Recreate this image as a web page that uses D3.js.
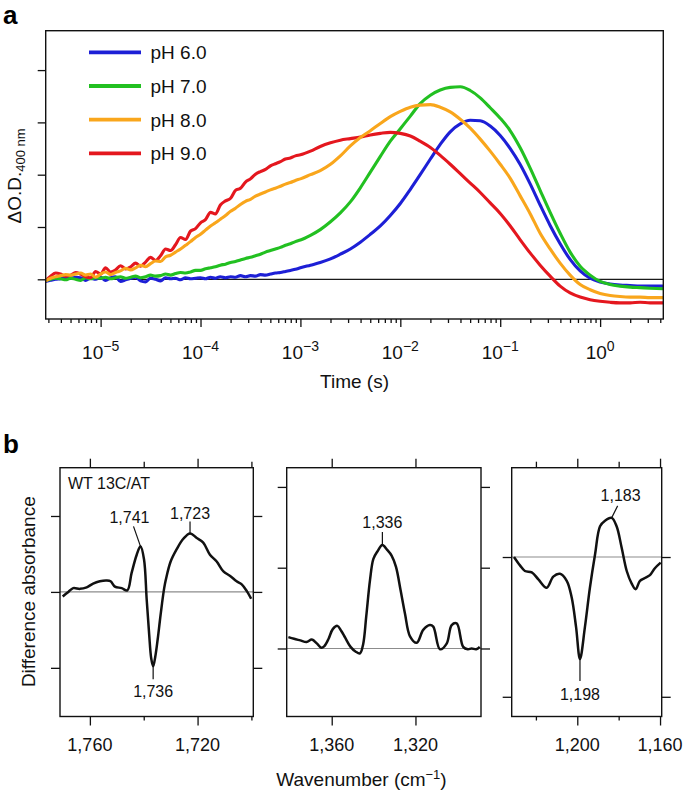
<!DOCTYPE html>
<html><head><meta charset="utf-8">
<script src="https://cdn.jsdelivr.net/npm/d3@7"></script>
<style>
body{margin:0;background:#fff;}
svg{display:block;font-family:"Liberation Sans",Arial,Helvetica,sans-serif;}
</style></head><body>
<svg id="c" width="685" height="794"></svg>
<script>
// ---------- Panel a data ----------
const times = [
2.82e-6,3.16e-6,3.55e-6,3.98e-6,4.47e-6,5.01e-6,5.62e-6,6.31e-6,7.08e-6,7.94e-6,8.91e-6,
1.00e-5,1.12e-5,1.26e-5,1.41e-5,1.58e-5,1.78e-5,2.00e-5,2.24e-5,2.51e-5,2.82e-5,3.16e-5,3.55e-5,3.98e-5,4.47e-5,5.01e-5,5.62e-5,6.31e-5,7.08e-5,7.94e-5,8.91e-5,
1.00e-4,1.12e-4,1.26e-4,1.41e-4,1.58e-4,1.78e-4,2.00e-4,2.24e-4,2.51e-4,2.82e-4,3.16e-4,3.55e-4,3.98e-4,4.47e-4,5.01e-4,5.62e-4,6.31e-4,7.08e-4,7.94e-4,8.91e-4,
1.00e-3,
1.26e-3,1.58e-3,2.00e-3,2.51e-3,3.16e-3,3.98e-3,5.01e-3,6.31e-3,7.94e-3,
1.00e-2,1.26e-2,1.58e-2,2.00e-2,2.51e-2,3.16e-2,3.98e-2,5.01e-2,6.31e-2,7.94e-2,
0.100,0.126,0.158,0.200,0.251,0.316,0.398,0.501,0.631,0.794,
1.00,1.26,1.58,2.00,2.51,3.16,4.27];

const pH60 = [
-0.04,-0.02,0.00,0.01,0.03,0.02,0.04,0.03,-0.02,0.02,0.00,
0.04,-0.02,0.03,0.05,-0.04,-0.01,0.02,0.04,-0.03,-0.05,0.02,0.00,-0.03,0.03,0.01,0.02,-0.01,0.03,0.01,0.02,
0.03,0.01,0.04,0.02,0.05,0.03,0.05,0.04,0.07,0.05,0.07,0.06,0.09,0.08,0.10,0.12,0.13,0.15,0.17,0.19,
0.22,
0.27,0.32,0.39,0.48,0.58,0.71,0.86,1.02,1.22,
1.45,1.72,2.00,2.30,2.58,2.82,2.97,3.04,3.03,2.93,
2.75,2.50,2.20,1.82,1.42,1.03,0.68,0.38,0.16,0.02,
-0.05,-0.09,-0.11,-0.12,-0.13,-0.13,-0.13];

const pH70 = [
-0.02,0.00,0.02,0.01,-0.01,0.02,0.00,-0.02,0.03,0.01,0.03,
0.02,0.04,0.01,0.03,0.05,0.02,0.04,0.06,0.03,0.05,0.08,0.06,0.07,0.10,0.08,0.11,0.13,0.12,0.14,0.17,
0.17,0.20,0.22,0.24,0.27,0.29,0.32,0.34,0.37,0.40,0.42,0.45,0.48,0.52,0.55,0.58,0.61,0.65,0.68,0.72,
0.75,
0.84,0.95,1.10,1.27,1.48,1.75,2.05,2.35,2.64,
2.88,3.12,3.36,3.52,3.62,3.67,3.68,3.61,3.47,3.28,
3.08,2.84,2.52,2.12,1.70,1.28,0.88,0.52,0.25,0.08,
-0.04,-0.10,-0.13,-0.15,-0.16,-0.17,-0.18];

const pH80 = [
-0.03,0.02,0.05,0.07,0.09,0.08,0.10,0.12,0.08,0.10,0.04,
0.10,0.14,0.09,0.13,0.16,0.21,0.18,0.22,0.27,0.24,0.30,0.35,0.34,0.43,0.46,0.52,0.58,0.65,0.72,0.80,
0.86,0.94,1.02,1.08,1.15,1.22,1.30,1.36,1.43,1.49,1.53,1.59,1.63,1.67,1.71,1.74,1.78,1.82,1.85,1.89,
1.92,
2.00,2.08,2.20,2.36,2.55,2.71,2.84,2.98,3.11,
3.21,3.29,3.33,3.34,3.29,3.20,3.06,2.89,2.68,2.45,
2.20,1.93,1.60,1.25,0.88,0.58,0.31,0.08,-0.10,-0.20,
-0.27,-0.31,-0.33,-0.34,-0.34,-0.35,-0.35];

const pH90 = [
-0.02,0.06,0.12,0.10,0.06,0.08,0.13,0.10,0.05,0.03,0.15,
0.10,0.22,0.14,0.18,0.26,0.20,0.24,0.31,0.25,0.33,0.42,0.36,0.45,0.58,0.55,0.66,0.80,0.76,0.92,0.97,
1.08,1.14,1.28,1.25,1.42,1.50,1.55,1.70,1.74,1.86,1.92,2.01,2.06,2.10,2.17,2.21,2.25,2.30,2.32,2.36,
2.38,
2.45,2.54,2.61,2.66,2.69,2.72,2.76,2.79,2.81,
2.79,2.74,2.64,2.52,2.37,2.20,2.02,1.84,1.66,1.46,
1.26,1.02,0.76,0.50,0.27,0.06,-0.13,-0.26,-0.34,-0.39,
-0.42,-0.44,-0.45,-0.45,-0.44,-0.45,-0.45];

const seriesNames = ["pH 6.0","pH 7.0","pH 8.0","pH 9.0"];
const seriesColors = ["#1d1fd6","#22c021","#f9a61c","#e4171e"];
const timeMajorTicks = [1e-5,1e-4,1e-3,1e-2,1e-1,1];
const timeExponents = ["\u22125","\u22124","\u22123","\u22122","\u22121","0"];
const odTicks = [0,1,2,3,4];

// ---------- Panel b data ----------
const wn1 = [1770.1,1768,1766.2,1763.7,1761.2,1758.8,1756.3,1753.8,1752.3,1750.7,1748.2,1746.1,1744.5,1742.6,1741.2,1739.9,1738.9,1738.0,1737.2,1736.5,1735.7,1734.8,1734.0,1733.2,1732.4,1731.8,1730,1727.8,1725.3,1722.8,1720.3,1717.9,1715.4,1712.9,1710.4,1707.9,1705.5,1703.6,1701.7,1700.1];
const ab1 = [-0.06,0.0,0.05,0.04,0.06,0.11,0.14,0.15,0.14,0.07,0.05,0.02,0.25,0.49,0.60,0.43,-0.10,-0.55,-0.88,-0.98,-0.85,-0.62,-0.38,-0.15,0.05,0.16,0.40,0.56,0.70,0.77,0.71,0.65,0.49,0.40,0.27,0.21,0.14,0.10,0.01,-0.09];
const wn2 = [1380.7,1378,1375,1372,1369.5,1367,1365,1363.5,1361.5,1359.5,1357.3,1355.5,1353.5,1351,1348.5,1346.5,1345,1343.5,1341.7,1340.1,1338.2,1335.8,1333.5,1331.4,1329.3,1327.1,1325,1322.6,1319.4,1316.3,1313.1,1311.5,1308.3,1305.1,1302.7,1300.3,1297.2,1295,1293.2,1291,1289.3];
const ab2 = [0.14,0.12,0.10,0.08,0.11,0.06,0.01,0.03,0.12,0.24,0.28,0.22,0.13,0.02,-0.04,-0.06,0.05,0.40,0.85,1.11,1.20,1.28,1.22,1.15,1.01,0.72,0.43,0.15,0.07,0.23,0.29,0.27,-0.01,0.06,0.29,0.31,0.02,-0.01,0.0,-0.01,0.02];
const wn3 = [1230.6,1227.7,1225.3,1222,1218.8,1214.8,1211.6,1208.4,1205.1,1202.7,1200.6,1198.7,1196.3,1193.9,1191.4,1189,1186.6,1183.4,1181,1178.6,1176.1,1173.7,1171.8,1169.7,1167.3,1164.9,1162.5,1159.7];
const ab3 = [0.0,-0.06,-0.10,-0.11,-0.16,-0.22,-0.14,-0.12,-0.17,-0.29,-0.50,-0.73,-0.50,-0.22,0.02,0.22,0.26,0.28,0.22,0.07,-0.10,-0.19,-0.23,-0.17,-0.15,-0.13,-0.08,-0.04];

const wnTicks1 = [1760,1740,1720,1700], wnLabels1 = [1760,1720], absTicks1 = [-1,0,1];
const wnTicks2 = [1360,1320], wnLabels2 = [1360,1320], absTicks2 = [0,1,2];
const wnTicks3 = [1220,1200,1180,1160], wnLabels3 = [1200,1160], absTicks3 = [-1,0];

// peak annotations: [label, wavenumber, value]
const peaks1 = [["1,741",1741.2,0.60],["1,723",1722.8,0.77],["1,736",1736.5,-0.98]];
const peaks2 = [["1,336",1335.8,1.28]];
const peaks3 = [["1,198",1198.7,-0.73],["1,183",1183.4,0.28]];

// ---------- drawing ----------
const svg = d3.select("#c");

svg.append("text").attr("x",3).attr("y",24).attr("font-size",26).attr("font-weight","bold").text("a");
svg.append("text").attr("x",3).attr("y",453).attr("font-size",26).attr("font-weight","bold").text("b");

// Panel a
const A = {l:45.7, r:663.3, t:30.7, b:319};
const xA = d3.scaleLog().domain([2.82e-6, 4.29]).range([A.l, A.r]);
const yA = d3.scaleLinear().domain([-0.759, 4.753]).range([A.b, A.t]);
const gA = svg.append("g");

gA.append("line").attr("x1",A.l).attr("x2",A.r).attr("y1",yA(0)).attr("y2",yA(0))
  .attr("stroke","#1a1a1a").attr("stroke-width",1.2);

const series = [pH60, pH70, pH80, pH90];
const lineA = d3.line().x((d,i)=>xA(times[i])).y(d=>yA(d)).curve(d3.curveMonotoneX);
[0,1,3,2].forEach(k => {
  gA.append("path").attr("d", lineA(series[k])).attr("fill","none")
    .attr("stroke", seriesColors[k]).attr("stroke-width",3.1).attr("stroke-linejoin","round");
});

gA.append("rect").attr("x",A.l).attr("y",A.t).attr("width",A.r-A.l).attr("height",A.b-A.t)
  .attr("fill","none").attr("stroke","#111").attr("stroke-width",1.4);

const yAx = gA.append("g").attr("transform",`translate(${A.l},0)`)
  .call(d3.axisLeft(yA).tickValues(odTicks).tickSize(8).tickFormat(""));
yAx.select(".domain").remove();
yAx.selectAll("line").attr("stroke","#111").attr("stroke-width",1.3);

const allTicks = xA.ticks();
const minorTicks = allTicks.filter(t => Math.abs(Math.log10(t) - Math.round(Math.log10(t))) > 1e-6);
const xAmin = gA.append("g").attr("transform",`translate(0,${A.b})`)
  .call(d3.axisBottom(xA).tickValues(minorTicks).tickSize(4).tickFormat(""));
const xAmaj = gA.append("g").attr("transform",`translate(0,${A.b})`)
  .call(d3.axisBottom(xA).tickValues(timeMajorTicks).tickSize(8).tickFormat(""));
[xAmin,xAmaj].forEach(g=>{g.select(".domain").remove(); g.selectAll("line").attr("stroke","#111").attr("stroke-width",1.3);});

timeMajorTicks.forEach((t,i)=>{
  const tx = gA.append("text").attr("x",xA(t)).attr("y",358.5).attr("text-anchor","middle").attr("font-size",19).attr("fill","#111");
  tx.append("tspan").text("10");
  tx.append("tspan").attr("dy",-7.5).attr("font-size",14).text(timeExponents[i]);
});
gA.append("text").attr("x",(A.l+A.r)/2).attr("y",388).attr("text-anchor","middle").attr("font-size",19).attr("fill","#111").text("Time (s)");

const yt = gA.append("text").attr("transform",`translate(21,${176}) rotate(-90)`).attr("text-anchor","middle").attr("font-size",19).attr("fill","#111");
yt.append("tspan").text("\u0394O.D.");
yt.append("tspan").attr("dy",4).attr("font-size",13).text("400 nm");

seriesNames.forEach((n,i)=>{
  const y = 52.3 + i*33.7;
  gA.append("line").attr("x1",89).attr("x2",141).attr("y1",y).attr("y2",y).attr("stroke",seriesColors[i]).attr("stroke-width",3.8);
  gA.append("text").attr("x",150.5).attr("y",y+7).attr("font-size",19).attr("fill","#111").text(n);
});

// Panel b
const B = {t:467.7, b:716.5};
const fmt = d3.format(",");
function panel(cfg){
  const x = d3.scaleLinear().domain(cfg.xd).range([cfg.l, cfg.r]);
  const y = d3.scaleLinear().domain(cfg.yd).range([B.b, B.t]);
  const g = svg.append("g");
  g.append("line").attr("x1",cfg.l).attr("x2",cfg.r).attr("y1",y(0)).attr("y2",y(0)).attr("stroke","#8c8c8c").attr("stroke-width",1.1);
  const ln = d3.line().x((d,i)=>x(cfg.wn[i])).y(d=>y(d)).curve(d3.curveCatmullRom.alpha(0.5));
  g.append("path").attr("d",ln(cfg.ab)).attr("fill","none").attr("stroke","#111").attr("stroke-width",2.5).attr("stroke-linejoin","round");
  g.append("rect").attr("x",cfg.l).attr("y",B.t).attr("width",cfg.r-cfg.l).attr("height",B.b-B.t).attr("fill","none").attr("stroke","#111").attr("stroke-width",1.4);
  const style = s => { s.select(".domain").remove(); s.selectAll("line").attr("stroke","#111").attr("stroke-width",1.3); };
  const maj = cfg.xt.filter(v=>cfg.xl.includes(v)), mnr = cfg.xt.filter(v=>!cfg.xl.includes(v));
  g.append("g").attr("transform",`translate(0,${B.t})`).call(d3.axisTop(x).tickValues(maj).tickSize(9).tickFormat("")).call(style);
  g.append("g").attr("transform",`translate(0,${B.t})`).call(d3.axisTop(x).tickValues(mnr).tickSize(6).tickFormat("")).call(style);
  g.append("g").attr("transform",`translate(0,${B.b})`).call(d3.axisBottom(x).tickValues(maj).tickSize(9).tickFormat("")).call(style);
  g.append("g").attr("transform",`translate(0,${B.b})`).call(d3.axisBottom(x).tickValues(mnr).tickSize(4).tickFormat("")).call(style);
  g.append("g").attr("transform",`translate(${cfg.l},0)`).call(d3.axisLeft(y).tickValues(cfg.yt).tickSize(9).tickFormat("")).call(style);
  g.append("g").attr("transform",`translate(${cfg.r},0)`).call(d3.axisRight(y).tickValues(cfg.yt).tickSize(9).tickFormat("")).call(style);
  cfg.xl.forEach(v=>{
    g.append("text").attr("x",x(v)).attr("y",750.7).attr("text-anchor","middle").attr("font-size",18).attr("fill","#111").text(fmt(v));
  });
  cfg.peaks.forEach((p,i)=>{
    const px = x(p[1]), py = y(p[2]);
    const a = cfg.ann[i];
    g.append("line").attr("x1",px).attr("y1",py).attr("x2",px+a[0]).attr("y2",py+a[1]).attr("stroke","#111").attr("stroke-width",1.2);
    g.append("text").attr("x",px+a[0]+a[2]).attr("y",py+a[1]+a[3]).attr("text-anchor","middle").attr("font-size",16).attr("fill","#111").text(p[0]);
  });
  return g;
}

const g1 = panel({l:60, r:253.3, xd:[1771.1,1699.3], yd:[-1.641,1.636], wn:wn1, ab:ab1, xt:wnTicks1, xl:wnLabels1, yt:absTicks1,
  peaks:peaks1, ann:[[-7,-20,-4,-3],[0,-12,0,-2],[0,13,0,18]]});
g1.append("text").attr("x",68).attr("y",489).attr("font-size",16).attr("fill","#111").text("WT 13C/AT");
panel({l:286.7, r:481, xd:[1381.5,1288.7], yd:[-0.842,2.238], wn:wn2, ab:ab2, xt:wnTicks2, xl:wnLabels2, yt:absTicks2,
  peaks:peaks2, ann:[[0,-13,0,-4]]});
panel({l:511.7, r:661.7, xd:[1231.7,1159.2], yd:[-1.141,0.639], wn:wn3, ab:ab3, xt:wnTicks3, xl:wnLabels3, yt:absTicks3,
  peaks:peaks3, ann:[[0,22,0,19],[6,-12,3,-5]]});

const xt = svg.append("text").attr("x",361.5).attr("y",786).attr("text-anchor","middle").attr("font-size",19).attr("fill","#111");
xt.append("tspan").text("Wavenumber (cm");
xt.append("tspan").attr("dy",-7).attr("font-size",13).text("\u22121");
xt.append("tspan").attr("dy",7).text(")");
svg.append("text").attr("transform","translate(35,591.7) rotate(-90)").attr("text-anchor","middle").attr("font-size",19).attr("fill","#111").text("Difference absorbance");
</script>
</body></html>
